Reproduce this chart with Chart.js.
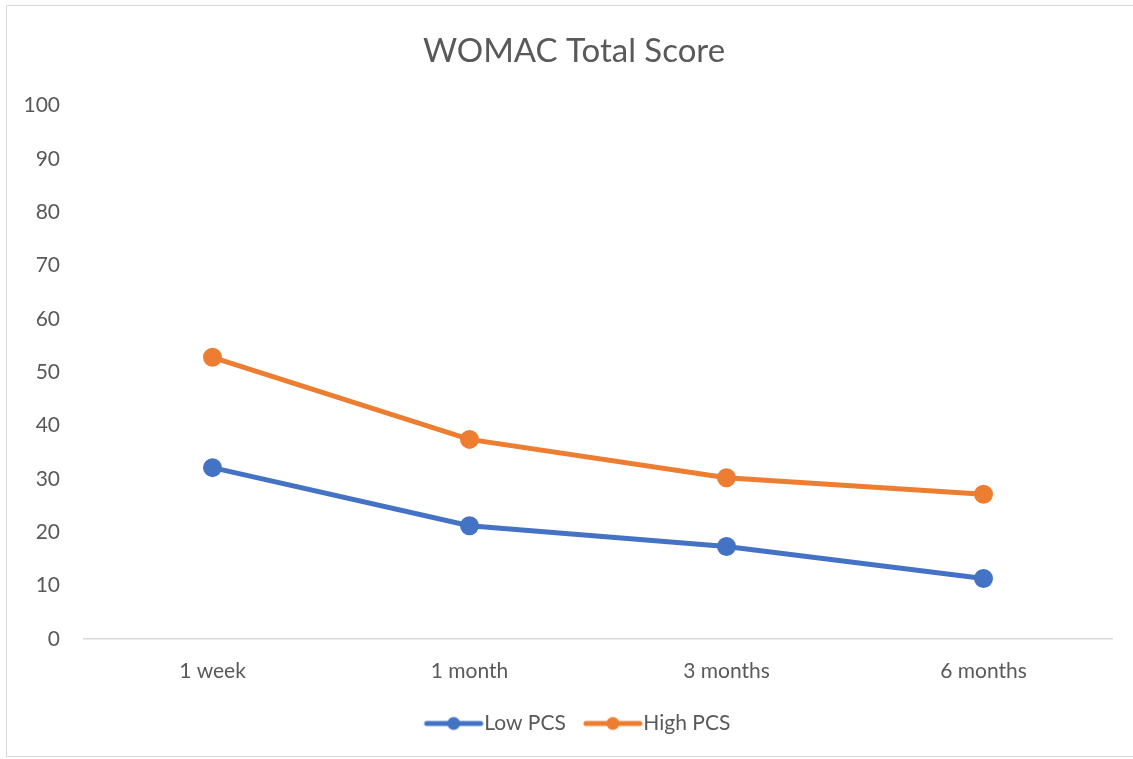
<!DOCTYPE html>
<html>
<head>
<meta charset="utf-8">
<script src="https://cdn.jsdelivr.net/npm/chart.js@4.4.0/dist/chart.umd.min.js"></script>
<style>
  body { margin: 0; background: #fff; }
  #frame { position: absolute; left: 6px; top: 5px; width: 1133px; height: 752px; border: 1.5px solid #d9d9d9; box-sizing: border-box; }
  canvas { position: absolute; left: 0; top: 0; }
</style>
</head>
<body>
<div id="frame"></div>
<canvas id="womacChart" width="1133" height="759"></canvas>
<script>
const labels = ['1 week', '1 month', '3 months', '6 months'];
const lowPcs = [32.1, 21.2, 17.3, 11.3];
const highPcs = [52.8, 37.4, 30.2, 27.1];

const textColor = '#595959';
const fontFamily = 'Lato, "Open Sans", "Liberation Sans", sans-serif';

// legend marker: a short line with a dot, shifted right so it sits close to the text
function legendMarker(color) {
  const c = document.createElement('canvas');
  c.width = 76;
  c.height = 16;
  const g = c.getContext('2d');
  g.strokeStyle = color;
  g.lineWidth = 5;
  g.lineCap = 'round';
  g.beginPath();
  g.moveTo(16, 8);
  g.lineTo(70, 8);
  g.stroke();
  g.fillStyle = color;
  g.beginPath();
  g.arc(43, 8, 6.5, 0, Math.PI * 2);
  g.fill();
  return c;
}

// title and legend are centred on the whole frame, not on the padded area
const recentre = {
  id: 'recentre',
  afterLayout(chart) {
    if (chart.titleBlock) { chart.titleBlock.left += 18; chart.titleBlock.right += 18; }
    if (chart.legend) { chart.legend.left += 21; chart.legend.right += 21; }
  }
};

const ctx = document.getElementById('womacChart');

new Chart(ctx, {
  type: 'line',
  data: {
    labels: labels,
    datasets: [{
      label: 'Low PCS',
      data: lowPcs,
      borderColor: '#4472C4',
      backgroundColor: '#4472C4',
      borderWidth: 5,
      pointRadius: 7,
      pointHoverRadius: 7,
      tension: 0
    }, {
      label: 'High PCS',
      data: highPcs,
      borderColor: '#ED7D31',
      backgroundColor: '#ED7D31',
      borderWidth: 5,
      pointRadius: 7,
      pointHoverRadius: 7,
      tension: 0
    }]
  },
  plugins: [recentre],
  options: {
    responsive: false,
    animation: false,
    layout: {
      padding: { left: 0, right: 21, top: 0, bottom: 15 }
    },
    plugins: {
      title: {
        display: true,
        text: 'WOMAC Total Score',
        color: textColor,
        font: { family: fontFamily, size: 33, weight: 'normal' },
        padding: { top: 32, bottom: 34 }
      },
      legend: {
        position: 'bottom',
        labels: {
          color: textColor,
          font: { family: fontFamily, size: 21 },
          usePointStyle: true,
          pointStyleWidth: 50,
          padding: 17,
          generateLabels: function (chart) {
            return chart.data.datasets.map(function (ds, i) {
              return {
                text: ds.label,
                fontColor: textColor,
                pointStyle: legendMarker(ds.borderColor),
                strokeStyle: ds.borderColor,
                fillStyle: ds.borderColor,
                lineWidth: 0,
                datasetIndex: i
              };
            });
          }
        }
      },
      tooltip: { enabled: false }
    },
    scales: {
      x: {
        offset: true,
        grid: { display: false },
        border: { display: true, color: '#d9d9d9', width: 1.5 },
        ticks: {
          color: textColor,
          font: { family: fontFamily, size: 21 },
          padding: 12
        }
      },
      y: {
        min: 0,
        max: 100,
        grid: { display: false },
        border: { display: false },
        afterFit: function (scale) { scale.width = 84; },
        ticks: {
          stepSize: 10,
          color: textColor,
          font: { family: fontFamily, size: 21 },
          padding: 16
        }
      }
    }
  }
});
</script>
</body>
</html>
